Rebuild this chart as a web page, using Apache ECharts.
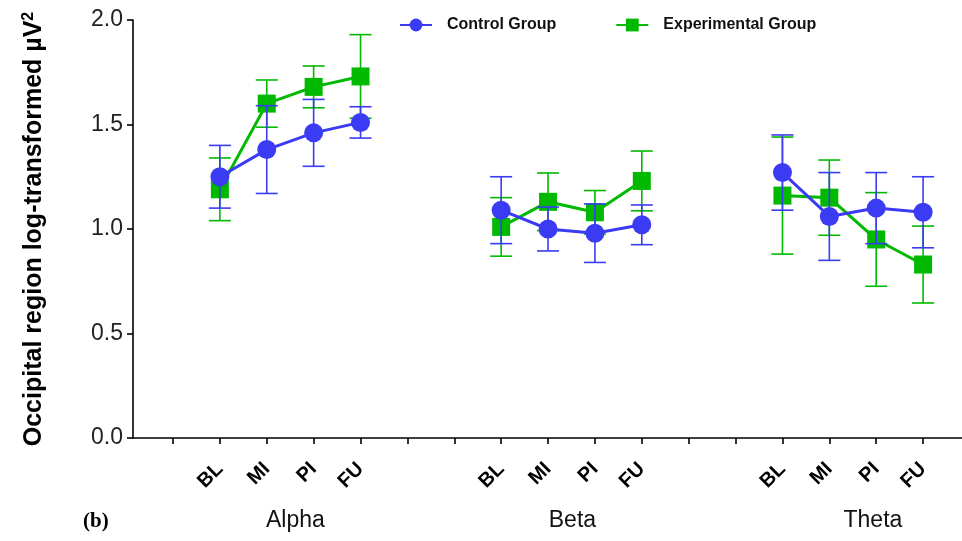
<!DOCTYPE html>
<html>
<head>
<meta charset="utf-8">
<title>Occipital region log-transformed power</title>
<script src="https://cdn.jsdelivr.net/npm/echarts@6/dist/echarts.min.js"></script>
<style>
  html, body { margin: 0; padding: 0; background: #ffffff; }
  #chart { width: 962px; height: 541px; }
</style>
</head>
<body>
<div id="chart"></div>
<script>
// Frequency bands and measurement sessions
const bands = ['Alpha', 'Beta', 'Theta'];
const sessions = ['BL', 'MI', 'PI', 'FU'];

// Group means (band-major order: Alpha BL..FU, Beta BL..FU, Theta BL..FU)
const controlMean = [1.25, 1.38, 1.46, 1.51, 1.09, 1.00, 0.98, 1.02, 1.27, 1.06, 1.10, 1.08];
const controlErr  = [0.15, 0.21, 0.16, 0.075, 0.16, 0.105, 0.14, 0.095, 0.18, 0.21, 0.17, 0.17];
const experimentalMean = [1.19, 1.60, 1.68, 1.73, 1.01, 1.13, 1.08, 1.23, 1.16, 1.15, 0.95, 0.83];
const experimentalErr  = [0.15, 0.113, 0.10, 0.20, 0.14, 0.138, 0.104, 0.143, 0.28, 0.18, 0.224, 0.184];

// Y axis ticks
const yTicks = [0, 0.5, 1.0, 1.5, 2.0];

const FONT = 'Arial, "Liberation Sans", sans-serif';
const BLUE = '#3b3bf4';
const GREEN = '#00b900';

// Each band occupies four slots, bands separated by two empty slots
const SLOT0 = 2, BAND_STRIDE = 6;
function slotOf(b, s) { return SLOT0 + b * BAND_STRIDE + s; }

const tickSlots = [];
for (let i = 1; i <= slotOf(bands.length - 1, sessions.length - 1); i++) tickSlots.push(i);
const labelSlots = [];
const slotName = {};
bands.forEach((b, bi) => sessions.forEach((s, si) => {
  const p = slotOf(bi, si);
  labelSlots.push(p);
  slotName[p] = s;
}));
// band titles sit under their session groups, nudged slightly right
const bandLabelShift = [0.11, 0.02, 0.43];
const bandCenters = bands.map((b, bi) => slotOf(bi, 0) + (sessions.length - 1) / 2 + bandLabelShift[bi]);
const bandName = {};
bandCenters.forEach((c, i) => { bandName[c.toFixed(2)] = bands[i]; });

function lineData(means) {
  const out = [];
  bands.forEach((b, bi) => {
    if (bi > 0) out.push('-');
    sessions.forEach((s, si) => out.push([slotOf(bi, si), means[bi * sessions.length + si]]));
  });
  return out;
}
function barData(means, errs) {
  const out = [];
  bands.forEach((b, bi) => sessions.forEach((s, si) => {
    const k = bi * sessions.length + si;
    out.push([slotOf(bi, si), means[k] - errs[k], means[k] + errs[k]]);
  }));
  return out;
}

function errorBars(color, z, data) {
  return {
    type: 'custom',
    z: z,
    silent: true,
    data: data,
    encode: { x: 0, y: [1, 2] },
    renderItem: function (params, api) {
      const x = api.value(0);
      const lo = api.coord([x, api.value(1)]);
      const hi = api.coord([x, api.value(2)]);
      const hw = 11;
      const style = { stroke: color, lineWidth: 1.6 };
      return {
        type: 'group',
        children: [
          { type: 'line', shape: { x1: lo[0], y1: lo[1], x2: hi[0], y2: hi[1] }, style: style },
          { type: 'line', shape: { x1: lo[0] - hw, y1: lo[1], x2: lo[0] + hw, y2: lo[1] }, style: style },
          { type: 'line', shape: { x1: hi[0] - hw, y1: hi[1], x2: hi[0] + hw, y2: hi[1] }, style: style }
        ]
      };
    }
  };
}

const chart = echarts.init(document.getElementById('chart'), null, { renderer: 'canvas' });

const option = {
  animation: false,
  backgroundColor: '#ffffff',
  legend: {
    data: ['Control Group', 'Experimental Group'],
    left: 394,
    top: 12,
    itemWidth: 32,
    itemHeight: 16,
    itemGap: 59,
    textStyle: { fontFamily: FONT, fontWeight: 'bold', fontSize: 16, color: '#111', padding: [0, 0, 0, 10] }
  },
  grid: { left: 133, right: 0, top: 20, bottom: 103, containLabel: false },
  xAxis: [
    {
      type: 'value',
      min: 0.147,
      max: 17.83,
      axisLine: { show: true, onZero: false, lineStyle: { color: '#000', width: 1.6 } },
      axisTick: { show: true, length: 6, customValues: tickSlots, lineStyle: { color: '#000', width: 1.6 } },
      axisLabel: {
        show: true,
        customValues: labelSlots,
        rotate: 45,
        margin: 28,
        fontFamily: FONT,
        fontWeight: 'bold',
        fontSize: 20,
        color: '#000',
        formatter: v => slotName[Math.round(v)] || ''
      },
      splitLine: { show: false }
    },
    {
      type: 'value',
      min: 0.147,
      max: 17.83,
      position: 'bottom',
      offset: 63,
      axisLine: { show: false, onZero: false },
      axisTick: { show: false },
      axisLabel: {
        show: true,
        customValues: bandCenters,
        margin: 8,
        fontFamily: FONT,
        fontSize: 23,
        color: '#111',
        formatter: v => bandName[Number(v).toFixed(2)] || ''
      },
      splitLine: { show: false }
    }
  ],
  yAxis: {
    type: 'value',
    min: yTicks[0],
    max: yTicks[yTicks.length - 1],
    interval: yTicks[1] - yTicks[0],
    axisLine: { show: true, lineStyle: { color: '#000', width: 1.6 } },
    axisTick: { show: true, length: 6, lineStyle: { color: '#000', width: 1.6 } },
    axisLabel: {
      margin: 10,
      fontFamily: FONT,
      fontSize: 23,
      color: '#222',
      formatter: v => v.toFixed(1)
    },
    splitLine: { show: false },
    name: '{t|Occipital region log-transformed µV}{s|2}',
    nameLocation: 'middle',
    nameRotate: 90,
    nameGap: 86,
    nameTextStyle: {
      rich: {
        t: { fontFamily: FONT, fontWeight: 'bold', fontSize: 25, color: '#000' },
        s: { fontFamily: FONT, fontWeight: 'bold', fontSize: 16, color: '#000', verticalAlign: 'top', padding: [0, 0, 10, 0] }
      }
    }
  },
  graphic: [
    {
      type: 'text',
      left: 83,
      top: 511,
      style: { text: '(b)', font: 'bold 21px "Liberation Serif", "Times New Roman", serif', fill: '#000' }
    }
  ],
  series: [
    errorBars(GREEN, 1, barData(experimentalMean, experimentalErr)),
    {
      name: 'Experimental Group',
      type: 'line',
      z: 2,
      data: lineData(experimentalMean),
      connectNulls: false,
      symbol: 'rect',
      symbolSize: 18,
      itemStyle: { color: GREEN },
      lineStyle: { color: GREEN, width: 3 }
    },
    errorBars(BLUE, 3, barData(controlMean, controlErr)),
    {
      name: 'Control Group',
      type: 'line',
      z: 4,
      data: lineData(controlMean),
      connectNulls: false,
      symbol: 'circle',
      symbolSize: 19,
      itemStyle: { color: BLUE },
      lineStyle: { color: BLUE, width: 3 }
    }
  ]
};

chart.setOption(option);
</script>
</body>
</html>
